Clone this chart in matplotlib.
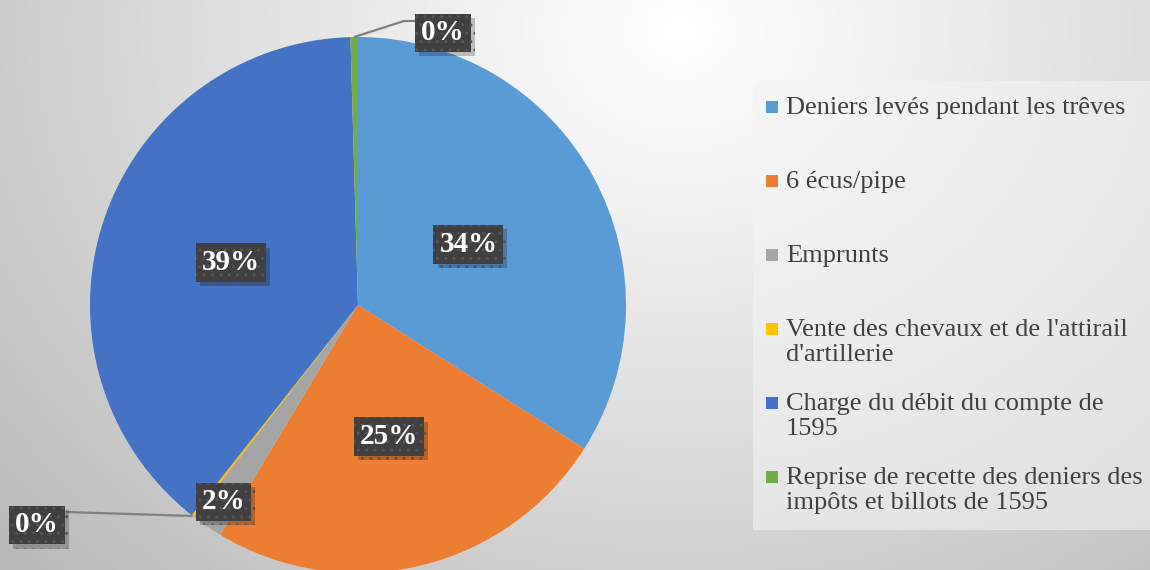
import numpy as np
import matplotlib
matplotlib.use("Agg")
import matplotlib.pyplot as plt
from matplotlib.patches import Rectangle
import matplotlib.patheffects as pe

# ---------------- data ----------------
categories = [
    "Deniers levés pendant les trêves",
    "6 écus/pipe",
    "Emprunts",
    "Vente des chevaux et de l'attirail\nd'artillerie",
    "Charge du débit du compte de\n1595",
    "Reprise de recette des deniers des\nimpôts et billots de 1595",
]
shares = [34.0, 24.6, 1.9, 0.15, 38.9, 0.45]
colors = ["#5B9BD5", "#ED7D31", "#A5A5A5", "#FFC000", "#4472C4", "#70AD47"]

# ---------------- layout / style ----------------
W, H = 1150, 570
CX, CY, R = 358, 570 - 305, 268
SERIF = ["Liberation Serif", "DejaVu Serif"]

fig = plt.figure(figsize=(W / 100, H / 100), dpi=100)
ax = fig.add_axes([0, 0, 1, 1])

# background radial gradient
yy, xx = np.mgrid[0:H, 0:W]
d = np.sqrt(((xx - 680) * 0.85) ** 2 + ((yy - 30) * 1.0) ** 2)
v = 1.0 - 0.22 * np.clip(d / 640.0, 0, 1.3) ** 1.1
bg = np.dstack([v, v, v])
ax.imshow(bg, extent=[0, W, 0, H], origin="upper", zorder=0, aspect="auto")

wedges, _ = ax.pie(shares, colors=colors, startangle=90, counterclock=False,
                   center=(CX, CY), radius=R,
                   wedgeprops=dict(linewidth=0))
for w in wedges:
    w.set_zorder(2)
ax.set_xlim(0, W)
ax.set_ylim(0, H)
ax.set_aspect("auto")
ax.axis("off")

total = sum(shares)
pcts = [100 * s / total for s in shares]

def box_text(x, y, s):
    t = ax.text(x, y, s, ha="center", va="center", color="white",
                fontsize=21, fontweight="bold", family=SERIF, zorder=6,
                bbox=dict(boxstyle="square,pad=0.2", facecolor="#404040",
                          edgecolor="#555555", linewidth=0, hatch=".."))
    t.get_bbox_patch().set_path_effects(
        [pe.SimplePatchShadow(offset=(3, -3), shadow_rgbFace="black", alpha=0.22),
         pe.Normal()])
    return t

# label placement (radial fraction of R) for each wedge
cum = np.cumsum([0] + pcts)
inside_frac = {0: 0.47, 1: 0.505, 2: 0.89, 4: 0.50}
for i, p in enumerate(pcts):
    mid = (cum[i] + cum[i + 1]) / 2.0
    ang = np.deg2rad(90 - 360 * mid / 100.0)
    label = "%.0f%%" % p
    if i in inside_frac:
        f = inside_frac[i]
        box_text(CX + f * R * np.cos(ang), CY + f * R * np.sin(ang), label)
    else:
        ex, ey = CX + R * np.cos(ang), CY + R * np.sin(ang)
        if i == 3:
            tx, ty = 37, H - 525
            ax.plot([ex, 66], [ey, H - 512], color="#808080", lw=1.6,
                    zorder=3, solid_capstyle="butt")
        else:
            tx, ty = 443, H - 33
            ax.plot([ex, 404, 415], [ey, H - 21, H - 21], color="#808080",
                    lw=1.6, zorder=3, solid_capstyle="butt")
        box_text(tx, ty, label)

# legend (manual, evenly spaced like the original)
ax.add_patch(Rectangle((753, H - 530), W - 753, 449, facecolor="#f4f4f4",
                       alpha=0.55, edgecolor="none", zorder=1))
for i, (lab, c) in enumerate(zip(categories, colors)):
    yc = H - (107 + 74 * i)
    ax.add_patch(Rectangle((766, yc - 6), 12, 12, facecolor=c,
                           edgecolor="none", zorder=4))
    ax.text(786, yc + 10, lab, ha="left", va="top", fontsize=19,
            family=SERIF, color="#404040", linespacing=1.15, zorder=4)

fig.savefig("out.png", dpi=100)
